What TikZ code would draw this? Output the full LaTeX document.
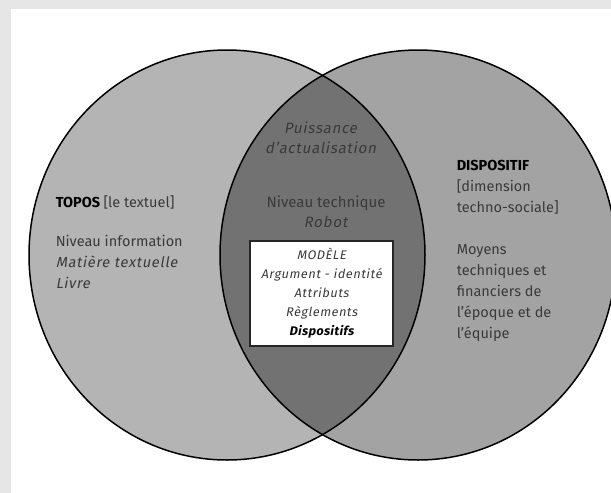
\documentclass[tikz,border=0pt]{standalone}
\usepackage{fontspec}
\setmainfont{Fira Sans}[ItalicFont=Fira Sans, ItalicFeatures={FakeSlant=0.18, LetterSpace=5},
  BoldItalicFont=Fira Sans Bold, BoldItalicFeatures={FakeSlant=0.18, LetterSpace=3}]
\usetikzlibrary{positioning}
\definecolor{cframe}{HTML}{E6E6E6}
\definecolor{cleft}{HTML}{B4B4B4}
\definecolor{cright}{HTML}{A3A3A3}
\definecolor{cmid}{HTML}{727272}
\definecolor{ctext}{HTML}{3A3A3A}
\tikzset{
  every picture/.style={line width=1.5pt},
  txt/.style={font=\fontsize{14.5}{21}\selectfont, text=ctext, align=left, inner sep=0pt},
  head/.style={font=\fontsize{14.5}{21}\selectfont\bfseries, text=black, inner sep=0pt},
  mid/.style={txt, align=center, font=\fontsize{15}{20}\selectfont},
  model/.style={draw=black!85, fill=white, line width=1.3pt, align=center, text=ctext,
    font=\fontsize{12.5}{19}\selectfont\itshape, minimum width=143pt, minimum height=105pt},
}

\begin{document}
\begin{tikzpicture}[x=1pt, y=-1pt]
  \useasboundingbox (0,0) rectangle (611,493);
  \fill[cframe] (0,0) rectangle (611,493);
  \fill[white] (11,9) rectangle (611,493);
  \fill[cleft] (227,255) ellipse [x radius=198pt, y radius=205pt];
  \fill[cright] (418,255) ellipse [x radius=198pt, y radius=205pt];
  \begin{scope}
    \clip (227,255) ellipse [x radius=198pt, y radius=205pt];
    \fill[cmid] (418,255) ellipse [x radius=198pt, y radius=205pt];
  \end{scope}
  \draw (227,255) ellipse [x radius=198pt, y radius=205pt];
  \draw (418,255) ellipse [x radius=198pt, y radius=205pt];
  \node[head, anchor=west] (topos) at (55,202) {TOPOS \mdseries\color{ctext}{[le textuel]}};
  \node[txt, anchor=north west] (topostxt) at (55,234) {Niveau information\\ \textit{Matière textuelle}\\ \textit{Livre}};
  \node[mid] (puissance) at (321,138) {\textit{Puissance}\\ \textit{d'actualisation}};
  \node[mid] (niveau) at (326,212) {Niveau technique\\ \textit{Robot}};
  \node[model] (modele) at (321.5,293.5) {MODÈLE\\ Argument - identité\\ Attributs\\ Règlements\\ \textbf{\color{black}Dispositifs}};
  \node[txt, anchor=north west] (dispositif) at (456,159) {\textbf{\color{black}DISPOSITIF}\\ {[dimension}\\ techno-sociale]};
  \node[txt, anchor=north west] (moyens) at (456,244) {Moyens\\ techniques et\\ financiers de\\ l'époque et de\\ l'équipe};
\end{tikzpicture}
\end{document}
